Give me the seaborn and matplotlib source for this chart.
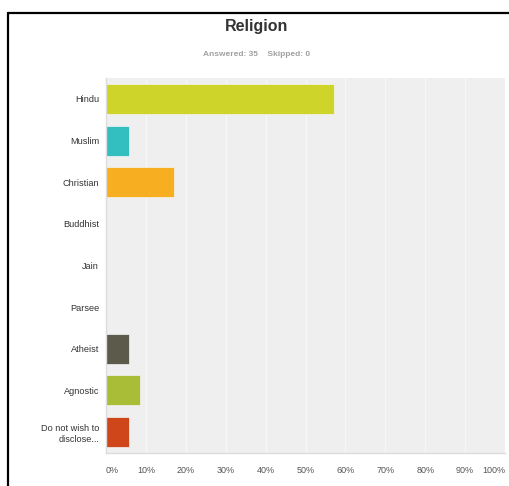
"""
Survey bar chart: Religion.
"""
import numpy as np
import matplotlib
matplotlib.use("Agg")
import matplotlib.pyplot as plt
from matplotlib.lines import Line2D
import seaborn as sns
import pandas as pd

# Data
categories = ["Hindu", "Muslim", "Christian", "Buddhist", "Jain", "Parsee",
              "Atheist", "Agnostic", "Do not wish to\ndisclose..."]
percent = [57.14, 5.71, 17.14, 0, 0, 0, 5.71, 8.57, 5.71]
bar_colors = ["#cfd42a", "#33bfc0", "#f7ae21", "#cccccc", "#cccccc", "#cccccc",
              "#5b5a4b", "#aabd37", "#d0461b"]
tick_values = list(range(0, 101, 10))
tick_labels = [f"{t}%" for t in tick_values]

sns.set_style("white")
plt.rcParams["font.family"] = ["Liberation Sans", "DejaVu Sans"]

df = pd.DataFrame({"category": categories, "percent": percent})

fig = plt.figure(figsize=(5.1, 4.86), dpi=100)
ax = fig.add_axes([106 / 510, 1 - 453 / 486, 399 / 510, (453 - 78) / 486])

sns.barplot(data=df, x="percent", y="category", hue="category",
            palette=bar_colors, legend=False, width=0.72, ax=ax,
            saturation=1, edgecolor="#f4f4f4", linewidth=0.5)

ax.set_facecolor("#efefef")
ax.set_xlim(0, 100)
ax.set_xticks(tick_values)
ax.set_xticklabels(tick_labels, fontsize=6.5, color="#555555")
for lbl, t in zip(ax.get_xticklabels(), tick_values):
    if t == 0:
        lbl.set_ha("left")
    elif t == 100:
        lbl.set_ha("right")
ax.tick_params(axis="x", length=0, pad=9)
ax.tick_params(axis="y", length=0, pad=5, labelsize=6.6, labelcolor="#333333")
ax.grid(axis="x", color="#f7f7f7", linewidth=1)
ax.set_axisbelow(True)
ax.set_xlabel("")
ax.set_ylabel("")
for side in ["top", "right"]:
    ax.spines[side].set_visible(False)
for side in ["left", "bottom"]:
    ax.spines[side].set_color("#dcdcdc")
    ax.spines[side].set_linewidth(1)

# Title and subtitle
fig.text(257 / 510, 1 - 27 / 486, "Religion", ha="center", va="center",
         fontsize=11.5, fontweight="bold", color="#333333")
fig.text(257 / 510, 1 - 55 / 486, "Answered: 35    Skipped: 0", ha="center",
         va="center", fontsize=6, fontweight="bold", color="#a0a0a0")

# Screenshot frame
fig.add_artist(Line2D([8 / 510, 1], [1 - 13 / 486, 1 - 13 / 486],
                      transform=fig.transFigure, color="black", linewidth=1.6))
fig.add_artist(Line2D([8 / 510, 8 / 510], [0, 1 - 13 / 486],
                      transform=fig.transFigure, color="black", linewidth=1.6))

fig.savefig("out.png", dpi=100)
